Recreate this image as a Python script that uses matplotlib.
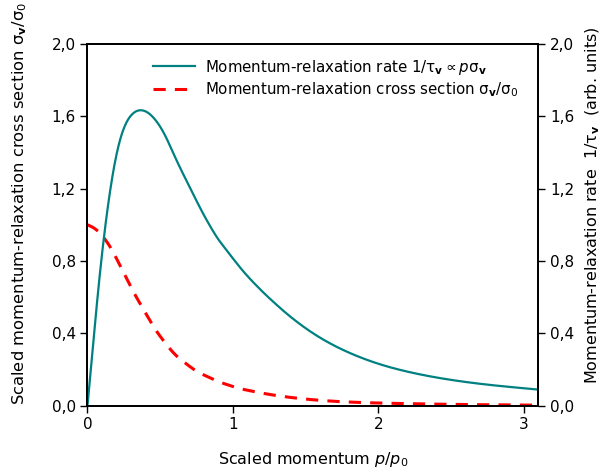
import numpy as np
import matplotlib
matplotlib.use('Agg')
import matplotlib.pyplot as plt
from matplotlib.ticker import FuncFormatter

# ----- Data -----
# momentum-relaxation rate 1/tau (right axis)
p_rate = [0.0, 0.029, 0.051, 0.074, 0.097, 0.12, 0.143, 0.166, 0.188, 0.211,
          0.245, 0.28, 0.325, 0.371, 0.428, 0.485, 0.531, 0.611, 0.702, 0.793,
          0.885, 0.976, 1.09, 1.207, 1.436, 1.664, 2.0, 2.351, 2.694, 3.1]
rate = [0.0, 0.252, 0.454, 0.657, 0.841, 0.988, 1.135, 1.255, 1.365, 1.448,
        1.54, 1.595, 1.632, 1.641, 1.620, 1.565, 1.505, 1.356, 1.209, 1.062,
        0.933, 0.835, 0.715, 0.618, 0.452, 0.333, 0.222, 0.158, 0.118, 0.088]

# scaled cross section sigma_v/sigma_0 (left axis)
p_sigma = [0.0, 0.063, 0.154, 0.234, 0.314, 0.394, 0.474, 0.599, 0.748, 0.908,
           1.045, 1.32, 1.664, 2.0, 2.58, 3.1]
sigma = [1.0, 0.979, 0.887, 0.758, 0.629, 0.519, 0.408, 0.280, 0.188, 0.129,
         0.090, 0.048, 0.022, 0.013, 0.005, 0.002]

x_ticks = [0, 1, 2, 3]
y_ticks = [0.0, 0.4, 0.8, 1.2, 1.6, 2.0]

plt.rcParams['font.family'] = ['DejaVu Sans']
plt.rcParams['mathtext.fontset'] = 'dejavusans'

fig = plt.figure(figsize=(6.14, 4.74), dpi=100)
ax = fig.add_axes([0.1425, 0.1445, 0.7345, 0.7625])
ax2 = ax.twinx()


def blur(xf, yf, width):
    # gaussian blur, ends padded by point reflection
    dx = xf[1] - xf[0]
    k = int(3 * width / dx)
    kern = np.exp(-0.5 * (np.arange(-k, k + 1) * dx / width) ** 2)
    kern /= kern.sum()
    left = 2 * yf[0] - yf[1:k + 1][::-1]
    right = 2 * yf[-1] - yf[-k - 1:-1][::-1]
    return np.convolve(np.concatenate([left, yf, right]), kern, mode='valid')


def smooth(xs, ys, n=620):
    # linear interpolation of the read-off points, blurred to take out the
    # reading jitter; wider blur in the sparsely read tail
    xf = np.linspace(xs[0], xs[-1], n)
    yf = np.interp(xf, xs, ys)
    fine = blur(xf, yf, 0.03)
    coarse = blur(xf, yf, 0.15)
    w = np.clip((xf - 0.9) / 0.4, 0, 1)
    return xf, (1 - w) * fine + w * coarse


xr, yr = smooth(p_rate, rate)
xs, ys = smooth(p_sigma, sigma)

l1, = ax2.plot(xr, yr, color='#008080', lw=1.6,
               label=r'Momentum-relaxation rate $1/\mathrm{\tau}_\mathbf{v} \propto p\mathrm{\sigma}_\mathbf{v}$')
l2, = ax.plot(xs, ys, color='#ff0000', lw=2.2, ls=(0, (4, 3)),
              label=r'Momentum-relaxation cross section $\mathrm{\sigma}_\mathbf{v}/\mathrm{\sigma}_0$')

fmt = FuncFormatter(lambda v, pos: f'{v:.1f}'.replace('.', ','))
for a in (ax, ax2):
    a.set_xlim(0, 3.1)
    a.set_ylim(0, 2.0)
    a.set_yticks(y_ticks)
    a.yaxis.set_major_formatter(fmt)
    a.tick_params(direction='out', length=5, width=1, labelsize=11)
    for s in a.spines.values():
        s.set_linewidth(1.3)
ax.set_xticks(x_ticks)

ax.set_xlabel(r'Scaled momentum $p/p_0$', fontsize=11.5, labelpad=13)
ax.set_ylabel(r'Scaled momentum-relaxation cross section $\mathrm{\sigma}_\mathbf{v}/\mathrm{\sigma}_0$',
              fontsize=11.8)
ax.yaxis.set_label_coords(-0.13, 0.56)
ax2.set_ylabel(r'Momentum-relaxation rate  $1/\mathrm{\tau}_\mathbf{v}$  (arb. units)',
               fontsize=11.5)
ax2.yaxis.set_label_coords(1.1, 0.555)

ax2.legend(handles=[l1, l2], loc='upper left', bbox_to_anchor=(0.115, 1.0),
           frameon=False, fontsize=10.8, handlelength=2.8, handletextpad=0.7,
           labelspacing=0.25)

fig.savefig('out.png', dpi=100)
